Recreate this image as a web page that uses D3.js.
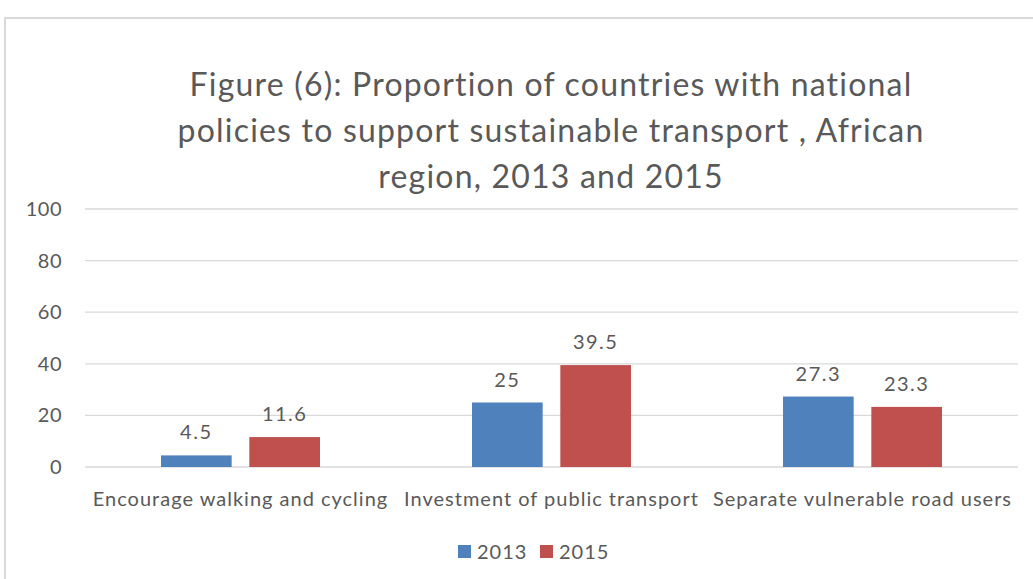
<!DOCTYPE html>
<html>
<head>
<meta charset="utf-8">
<script src="https://cdn.jsdelivr.net/npm/d3@7"></script>
<style>
  body { margin: 0; background: #fff; }
  text { font-family: Lato, "Open Sans", sans-serif; fill: #595959; }
</style>
</head>
<body>
<div id="chart"></div>
<script>
// data
const categories = ['Encourage walking and cycling', 'Investment of public transport', 'Separate vulnerable road users'];
const years = ['2013', '2015'];
const values2013 = [4.5, 25, 27.3];
const values2015 = [11.6, 39.5, 23.3];
const yTicks = [0, 20, 40, 60, 80, 100];
const colors = ['#4F81BD', '#C0504D'];
const titleLines = [
  'Figure (6): Proportion of countries with national',
  'policies to support sustainable transport , African',
  'region, 2013 and 2015'
];

const width = 1033, height = 579;
const margin = { top: 209, right: 15, bottom: 112, left: 85 };
const innerW = width - margin.left - margin.right;
const innerH = height - margin.top - margin.bottom;

const svg = d3.select('#chart').append('svg')
  .attr('width', width)
  .attr('height', height);

// outer frame (only top and left edges are visible in the crop)
svg.append('path')
  .attr('d', `M5,${height} V18 H${width}`)
  .attr('fill', 'none')
  .attr('stroke', '#d9d9d9')
  .attr('stroke-width', 2);

const chart = svg.append('g')
  .attr('transform', `translate(${margin.left},${margin.top})`);

const x0 = d3.scaleBand()
  .domain(categories)
  .range([0, innerW]);

const x1 = d3.scaleBand()
  .domain(years)
  .range([76, x0.bandwidth() - 76])
  .paddingInner(0.2);

const y = d3.scaleLinear()
  .domain([0, 100])
  .range([innerH, 0]);

// gridlines
chart.selectAll('.grid')
  .data(yTicks)
  .join('line')
    .attr('class', 'grid')
    .attr('x1', 0)
    .attr('x2', innerW)
    .attr('y1', d => y(d))
    .attr('y2', d => y(d))
    .attr('stroke', '#d9d9d9')
    .attr('stroke-width', 1.3);

// y axis labels
const yAxis = d3.axisLeft(y).tickValues(yTicks).tickSize(0).tickPadding(23);
const yAxisG = chart.append('g').call(yAxis);
yAxisG.select('.domain').remove();
yAxisG.selectAll('text')
  .style('font-size', '20px')
  .style('letter-spacing', '0.5px')
  .attr('fill', '#595959');

// x axis labels
const xAxis = d3.axisBottom(x0).tickSize(0).tickPadding(25);
const xAxisG = chart.append('g')
  .attr('transform', `translate(0,${innerH})`)
  .call(xAxis);
xAxisG.select('.domain').remove();
xAxisG.selectAll('text')
  .style('font-size', '20px')
  .style('letter-spacing', '1px')
  .attr('fill', '#595959');

// bars
const rows = categories.map((c, i) => ({ cat: c, vals: [values2013[i], values2015[i]] }));
const groups = chart.selectAll('.group')
  .data(rows)
  .join('g')
    .attr('class', 'group')
    .attr('transform', d => `translate(${x0(d.cat)},0)`);

groups.selectAll('rect')
  .data(d => d.vals.map((v, j) => ({ year: years[j], value: v, idx: j })))
  .join('rect')
    .attr('x', d => x1(d.year))
    .attr('y', d => y(d.value))
    .attr('width', x1.bandwidth())
    .attr('height', d => y(0) - y(d.value))
    .attr('fill', d => colors[d.idx]);

groups.selectAll('.val')
  .data(d => d.vals.map((v, j) => ({ year: years[j], value: v })))
  .join('text')
    .attr('class', 'val')
    .attr('x', d => x1(d.year) + x1.bandwidth() / 2)
    .attr('y', d => y(d.value) - 16)
    .attr('text-anchor', 'middle')
    .style('font-size', '20px')
    .style('letter-spacing', '1.5px')
    .text(d => d.value);

// title
svg.append('g').selectAll('text')
  .data(titleLines)
  .join('text')
    .attr('x', 551)
    .attr('y', (d, i) => 96 + i * 46)
    .attr('text-anchor', 'middle')
    .style('font-size', '32px')
    .style('letter-spacing', '1.2px')
    .text(d => d);

// legend
const legend = svg.append('g')
  .attr('transform', 'translate(458,559)');
const li = legend.selectAll('g')
  .data(years)
  .join('g')
    .attr('transform', (d, i) => `translate(${i * 82},0)`);
li.append('rect')
  .attr('x', 0)
  .attr('y', -14)
  .attr('width', 13)
  .attr('height', 13)
  .attr('fill', (d, i) => colors[i]);
li.append('text')
  .attr('x', 19)
  .attr('y', 0)
  .style('font-size', '20px')
  .style('letter-spacing', '1px')
  .text(d => d);
</script>
</body>
</html>
